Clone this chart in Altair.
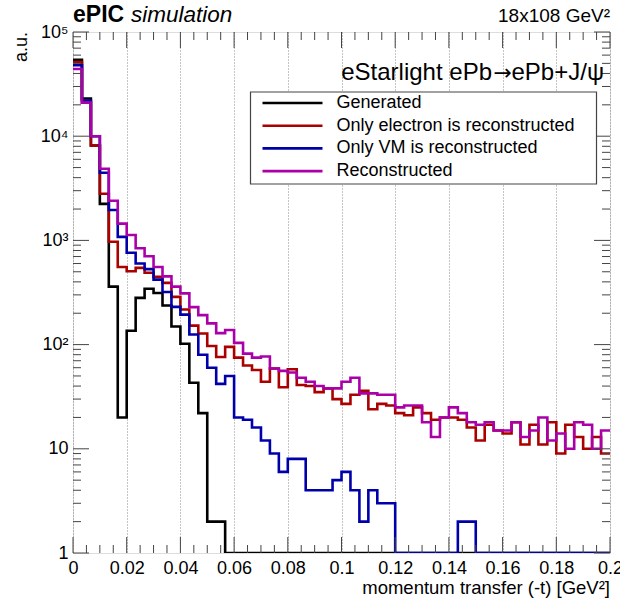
import altair as alt
import numpy as np
import pandas as pd

# ---------------- data ----------------
N_BINS = 60
T_RANGE = [0.0, 0.2]

series_names = ["Generated", "Only electron is reconstructed",
                "Only VM is reconstructed", "Reconstructed"]
series_colors = ["#000000", "#aa0000", "#0000aa", "#aa00aa"]

generated = [54000, 23000, 8150, 2240, 360, 20, 136, 281, 344, 313,
             237, 149, 102, 43, 22, 2, 2, 0, 0, 0,
             0, 0, 0, 0, 0, 0, 0, 0, 0, 0,
             0, 0, 0, 0, 0, 0, 0, 0, 0, 0,
             0, 0, 0, 0, 0, 0, 0, 0, 0, 0,
             0, 0, 0, 0, 0, 0, 0, 0, 0, 0]

electron_only = [51500, 21000, 8150, 2800, 970, 555, 505, 545, 490, 447,
                 391, 287, 217, 152, 128, 97, 76, 95, 75, 63,
                 57, 44, 59, 39, 58, 41, 40, 35, 38, 30,
                 27, 33, 36, 24, 27, 26, 22, 21, 25, 22,
                 19, 20, 20, 19, 16, 12, 17, 15, 14, 18,
                 11, 17, 11, 18, 9, 17, 13, 10, 13, 9]

vm_only = [47900, 22000, 10000, 4460, 1960, 1080, 760, 600, 530, 420,
           320, 230, 194, 125, 80, 60, 42, 50, 20, 19,
           16, 12, 9, 6, 8, 8, 4, 4, 4, 5,
           6, 4, 2, 4, 3, 3, 0, 0, 0, 0,
           0, 0, 0, 2, 2, 0, 0, 0, 0, 0,
           0, 0, 0, 0, 0, 0, 0, 0, 0, 0]

reconstructed = [44200, 21000, 10000, 4870, 2400, 1450, 1125, 840, 705, 556,
                 452, 360, 310, 229, 192, 160, 129, 138, 104, 82,
                 75, 77, 59, 56, 54, 48, 44, 40, 38, 38,
                 44, 48, 34, 34, 33, 33, 25, 26, 26, 18,
                 13, 20, 25, 22, 18, 17, 18, 15, 15, 18,
                 13, 15, 20, 12, 14, 10, 18, 17, 10, 15]

x_major = [0.0, 0.02, 0.04, 0.06, 0.08, 0.1, 0.12, 0.14, 0.16, 0.18, 0.2]
y_major = [1, 10, 100, 1000, 10000, 100000]

# ---------------- tables ----------------
edges = np.linspace(T_RANGE[0], T_RANGE[1], N_BINS + 1)
rows = []
for name, vals in zip(series_names,
                      [generated, electron_only, vm_only, reconstructed]):
    for i, t in enumerate(edges):
        rows.append({"series": name, "t": float(t),
                     "count": vals[min(i, N_BINS - 1)]})
hist = pd.DataFrame(rows)

x_minor = [round(v, 4) for v in np.arange(0, 0.2001, 0.005)]
x_minor = [v for v in x_minor if abs(v / 0.02 - round(v / 0.02)) > 1e-6]
y_minor = [m * 10 ** k for k in range(0, 5) for m in range(2, 10)]

W, H = 537, 521
FONT = "Liberation Sans"

xscale = alt.Scale(domain=T_RANGE, nice=False, zero=False)
yscale = alt.Scale(type="log", domain=[1, 100000], nice=False)
cscale = alt.Scale(domain=series_names, range=series_colors)

x_axis = alt.Axis(values=x_major, format="~g", title=None, ticks=False,
                  tickSize=0, domain=False, labelFont=FONT, labelFontSize=18,
                  labelColor="black", labelPadding=6, grid=True,
                  gridDash=[1, 2], gridColor="#8a8a8a", gridWidth=1,
                  labelFlush=False, labelOverlap=False)
y_axis = alt.Axis(values=y_major, title=None, ticks=False, tickSize=0,
                  domain=False, grid=False, labelFont=FONT, labelFontSize=18,
                  labelColor="black", labelPadding=5, labelFlush=False,
                  labelOverlap=False,
                  labelExpr="datum.value == 1 ? '1' : datum.value == 10 ? '10' : "
                            "datum.value == 100 ? '10²' : datum.value == 1000 ? '10³' : "
                            "datum.value == 10000 ? '10⁴' : '10⁵'")

layers = []
for name in series_names:
    layers.append(
        alt.Chart(hist)
        .transform_filter(alt.datum.series == name)
        .transform_calculate(shown="max(datum.count, 1)")
        .mark_line(interpolate="step-after", strokeWidth=2.6, clip=True)
        .encode(
            x=alt.X("t:Q", scale=xscale, axis=x_axis),
            y=alt.Y("shown:Q", scale=yscale, axis=y_axis),
            color=alt.Color("series:N", scale=cscale, legend=None),
        )
    )

tick_color = "#444444"


def xticks(values, y0, y1):
    return alt.Chart(pd.DataFrame({"tv": values})).mark_rule(
        color=tick_color, strokeWidth=1).encode(
        x=alt.X("tv:Q", scale=xscale, axis=x_axis),
        y=alt.value(y0), y2=alt.value(y1))


def yticks(values, x0, x1):
    return alt.Chart(pd.DataFrame({"tv": values})).mark_rule(
        color=tick_color, strokeWidth=1).encode(
        y=alt.Y("tv:Q", scale=yscale, axis=y_axis),
        x=alt.value(x0), x2=alt.value(x1))


ticks = [
    xticks(x_major, H, H - 16), xticks(x_minor, H, H - 8),
    xticks(x_major, 0, 16), xticks(x_minor, 0, 8),
    yticks(y_major, 0, 16), yticks(y_minor, 0, 8),
    yticks(y_major, W, W - 16), yticks(y_minor, W, W - 8),
]

# legend (box + entries)
legend_df = pd.DataFrame({"series": series_names,
                          "idx": list(range(len(series_names)))})
legend_box = alt.Chart(pd.DataFrame({"a": [0]})).mark_rect(
    fill="white", stroke="#444444", strokeWidth=1.2).encode(
    x=alt.value(177.5), x2=alt.value(523.5), y=alt.value(60), y2=alt.value(152))
legend_base = alt.Chart(legend_df).transform_calculate(
    ly="71 + datum.idx * 22.7")
legend_lines = legend_base.mark_rule(strokeWidth=2.6).encode(
    x=alt.value(189.5), x2=alt.value(249.5),
    y=alt.Y("ly:Q", scale=None),
    color=alt.Color("series:N", scale=cscale, legend=None))
legend_text = legend_base.mark_text(
    align="left", baseline="middle", font=FONT, fontSize=18,
    color="black").encode(
    x=alt.value(263.5), y=alt.Y("ly:Q", scale=None), text="series:N")


def label(txt, x, y, font=FONT, **kw):
    return alt.Chart(pd.DataFrame({"txt": [txt]})).mark_text(
        font=font, color="black", **kw).encode(
        x=alt.value(x), y=alt.value(y), text="txt:N")


texts = [
    label("ePIC", 0, -10, align="left", baseline="alphabetic",
          fontSize=23, fontWeight="bold"),
    label("simulation", 58, -10, align="left", baseline="alphabetic",
          fontSize=22.5, fontStyle="italic"),
    label("18x108 GeV²", W, -10, align="right", baseline="alphabetic",
          fontSize=19),
    label("ePb+J/ψ", 531, 48, align="right", baseline="alphabetic",
          fontSize=24),
    label("→", 439, 48, font="DejaVu Sans", align="right",
          baseline="alphabetic", fontSize=22),
    label("eStarlight ePb", 419, 48, align="right", baseline="alphabetic",
          fontSize=24),
    label("momentum transfer (-t) [GeV²]", W, 562, align="right",
          baseline="alphabetic", fontSize=18.5),
    label("a.u.", -51.5, 0, align="right", baseline="middle", fontSize=18,
          angle=270),
]

chart = alt.layer(*layers, *ticks, legend_box, legend_lines, legend_text,
                  *texts).properties(
    width=W, height=H,
    autosize=alt.AutoSizeParams(type="none"),
    padding={"left": 73, "top": 32, "right": 10, "bottom": 47},
).configure_view(stroke="black", strokeWidth=1.5).configure(background="white")

chart.save("out.html", embed_options={"renderer": "svg", "actions": False})
